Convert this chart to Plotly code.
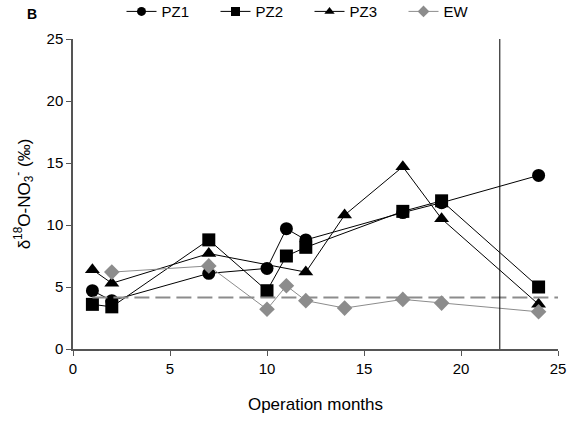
import plotly.graph_objects as go

pz1_x = [1, 2, 7, 10, 11, 12, 17, 19, 24]
pz1_y = [4.7, 3.9, 6.1, 6.5, 9.7, 8.8, 11.0, 11.8, 14.0]
pz2_x = [1, 2, 7, 10, 11, 12, 17, 19, 24]
pz2_y = [3.6, 3.4, 8.8, 4.7, 7.5, 8.2, 11.1, 11.95, 5.0]
pz3_x = [1, 2, 7, 12, 14, 17, 19, 24]
pz3_y = [6.4, 5.3, 7.7, 6.2, 10.8, 14.7, 10.5, 3.6]
ew_x = [2, 7, 10, 11, 12, 14, 17, 19, 24]
ew_y = [6.2, 6.7, 3.2, 5.1, 3.9, 3.3, 4.0, 3.7, 3.0]
ref_x = [1, 25]
ref_y = [4.15, 4.15]
cut_x = [22, 22]
cut_y = [0, 25]

series = [
    ("PZ1", pz1_x, pz1_y, "circle", 13, "black", "black"),
    ("PZ2", pz2_x, pz2_y, "square", 13, "black", "black"),
    ("PZ3", pz3_x, pz3_y, "triangle-up", 13, "black", "black"),
    ("EW", ew_x, ew_y, "diamond", 12, "#8c8c8c", "#8c8c8c"),
]

fig = go.Figure()
for name, xs, ys, sym, size, lc, mc in series:
    fig.add_trace(go.Scatter(x=xs, y=ys, mode="lines+markers", name=name, showlegend=False,
                             line=dict(color=lc, width=1),
                             marker=dict(symbol=sym, size=size, color=mc)))
fig.add_trace(go.Scatter(x=ref_x, y=ref_y, mode="lines", showlegend=False,
                         line=dict(color="#8c8c8c", width=2, dash="15px,6px"), hoverinfo="skip"))
fig.add_trace(go.Scatter(x=cut_x, y=cut_y, mode="lines", showlegend=False,
                         line=dict(color="black", width=1), hoverinfo="skip"))
# legend entries with smaller symbols
for name, xs, ys, sym, size, lc, mc in series:
    fig.add_trace(go.Scatter(x=[None], y=[None], mode="lines+markers", name=name,
                             line=dict(color=lc, width=1),
                             marker=dict(symbol=sym, size=9, color=mc)))

axis_common = dict(showgrid=False, zeroline=False, showline=True, linecolor="#555555",
                   linewidth=1.5, ticks="outside", ticklen=5, tickcolor="#555555",
                   tickfont=dict(size=15, color="black"))
fig.update_xaxes(range=[0, 25], tick0=0, dtick=5, title=dict(text="Operation months",
                 font=dict(size=17, color="black"), standoff=22), **axis_common)
fig.update_yaxes(range=[0, 25], tick0=0, dtick=5,
                 title=dict(text="δ<sup>18</sup>O-NO<sub>3</sub><sup>-</sup> (‰)",
                            font=dict(size=17, color="black"), standoff=12), **axis_common)

fig.update_layout(
    width=577, height=425,
    margin=dict(l=73, r=19, t=39, b=76, autoexpand=False),
    paper_bgcolor="white", plot_bgcolor="white",
    font=dict(family="Liberation Sans, Arial, sans-serif", size=15, color="black"),
    legend=dict(orientation="h", x=0.1, xanchor="left", y=1.035, yanchor="bottom",
                font=dict(size=15), entrywidth=49, entrywidthmode="pixels",
                tracegroupgap=0, bgcolor="rgba(0,0,0,0)"),
    annotations=[dict(text="<b>B</b>", xref="paper", yref="paper", x=-0.098, y=1.08,
                      showarrow=False, xanchor="left", yanchor="middle",
                      font=dict(size=14, color="black"))],
)
fig.write_html("out.html")
